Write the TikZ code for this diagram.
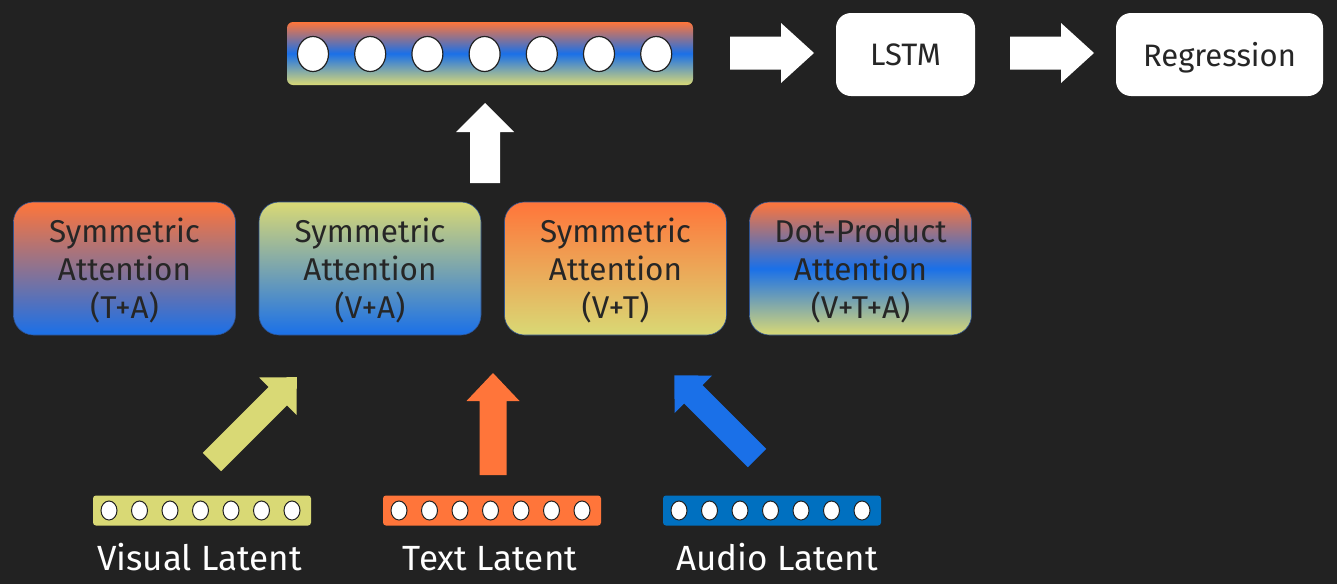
\documentclass[tikz,border=0pt]{standalone}
\usepackage{fontspec}
\setmainfont{Fira Sans}
\usetikzlibrary{shapes.geometric}
\definecolor{bgdark}{RGB}{34,34,34}
\definecolor{latO}{RGB}{255,117,58}
\definecolor{latY}{RGB}{217,217,117}
\definecolor{latB}{RGB}{26,112,232}
\definecolor{audB}{RGB}{0,112,192}
\definecolor{edgeB}{RGB}{47,82,143}
\definecolor{inkD}{RGB}{38,38,38}

% thick block arrow: tail x, tail y, angle, length, shaft, head, head length, colour
\newcommand{\blockarrow}[8]{%
  \fill[#8, shift={(#1,#2)}, rotate=#3]
    (0,-#5/2) -- (#4-#7,-#5/2) -- (#4-#7,-#6/2) -- (#4,0)
    -- (#4-#7,#6/2) -- (#4-#7,#5/2) -- (0,#5/2) -- cycle;}

\begin{document}
\begin{tikzpicture}[x=1pt, y=-1pt]
\tikzset{attn/.style = {shape=rectangle, rounded corners=20pt, draw=edgeB, line width=0.6pt,
        minimum width=222pt, minimum height=133pt, inner sep=0pt, align=center,
        text depth=0pt, text=inkD, font=\fontsize{31.5}{38}\selectfont}}
\tikzset{whitebox/.style = {shape=rectangle, rounded corners=15pt, fill=white,
        minimum height=83pt, inner sep=0pt, text depth=0pt, text=inkD,
        font=\fontsize{31}{38}\selectfont}}
\tikzset{bigdot/.style = {shape=ellipse, draw=bgdark, line width=1.2pt, fill=white,
        minimum width=31pt, minimum height=35pt, inner sep=0pt}}
\tikzset{smalldot/.style = {shape=ellipse, draw=bgdark, line width=1pt, fill=white,
        minimum width=16pt, minimum height=19pt, inner sep=0pt}}
\tikzset{latbar/.style = {shape=rectangle, rounded corners=3pt, minimum width=218pt,
        minimum height=30pt, inner sep=0pt}}
\tikzset{latlabel/.style = {anchor=base, text=white, font=\fontsize{35}{40}\selectfont}}

% background
\fill[bgdark] (0,0) rectangle (1337,584);

% fused vector on top
\node[shape=rectangle, rounded corners=6pt, minimum width=406pt, minimum height=63pt,
      top color=latO, bottom color=latY, middle color=latB] (fused) at (490,53.5) {};
\foreach \i in {0,...,6}
    \node[bigdot] (f\i) at (313+57.2*\i,54) {};

% LSTM and regression
\node[whitebox, minimum width=139pt] (lstm) at (905.5,54.5) {LSTM};
\node[whitebox, minimum width=207pt] (regr) at (1219.5,54.5) {Regression};
\blockarrow{730}{53}{0}{84}{33}{60}{33}{white}
\blockarrow{1010}{53}{0}{84}{33}{60}{33}{white}

% attention blocks
\node[attn, top color=latO, bottom color=latB] (ta) at (124.5,268.5)
    {Symmetric\\Attention\\(T+A)};
\node[attn, top color=latY, bottom color=latB] (va) at (370,268.5)
    {Symmetric\\Attention\\(V+A)};
\node[attn, top color=latO, bottom color=latY] (vt) at (615.5,268.5)
    {Symmetric\\Attention\\(V+T)};
\node[attn, top color=latO, bottom color=latY, middle color=latB] (vta) at (860.5,268.5)
    {Dot-Product\\Attention\\(V+T+A)};
\blockarrow{485}{183}{90}{80}{30}{58}{29}{white}

% latent inputs
\foreach \bx/\col/\name/\lx/\txt in {93/latY/vis/199.5/Visual Latent, 383/latO/txt/490/Text Latent,
                                     663/audB/aud/777/Audio Latent}{
    \node[latbar, fill=\col] (\name) at (\bx+109,510.5) {};
    \foreach \i in {0,...,6}
        \node[smalldot] (\name\i) at (\bx+16+30.5*\i,510.5) {};
    \node[latlabel] (\name lab) at (\lx,570) {\txt};
}
\blockarrow{212}{462}{45}{120}{26}{53}{27}{latY}
\blockarrow{493}{475}{90}{102}{27}{53}{28}{latO}
\blockarrow{757}{458}{135}{117}{26}{53}{27}{latB}
\end{tikzpicture}
\end{document}
